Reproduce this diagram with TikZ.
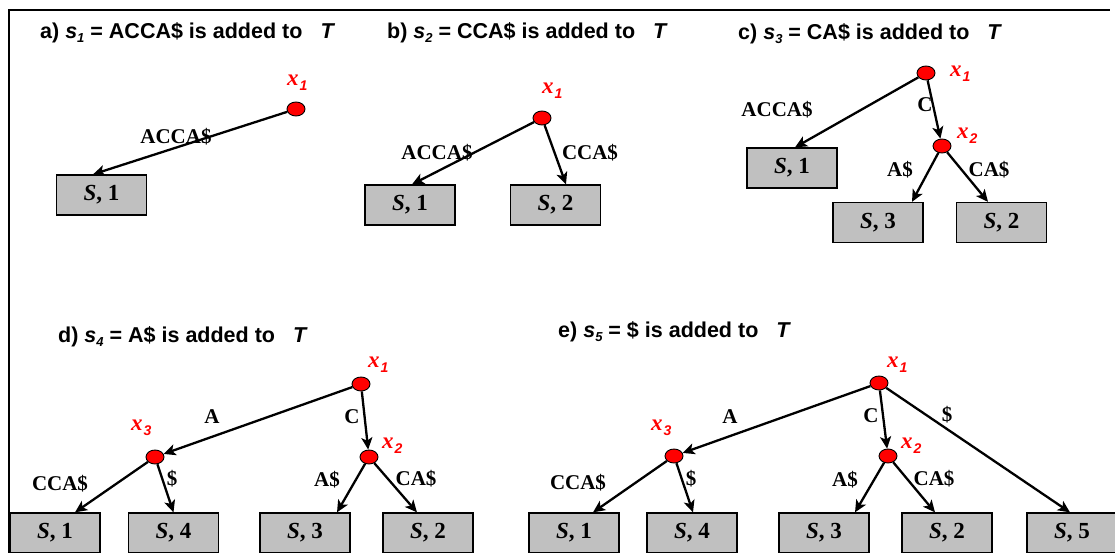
\documentclass[tikz,border=0pt]{standalone}
\usepackage{fontspec}
\setmainfont{Liberation Serif}
\newfontfamily\arialfont{Liberation Sans}
\usetikzlibrary{arrows.meta,shapes.geometric}

\definecolor{boxgray}{RGB}{192,192,192}
\definecolor{nodered}{RGB}{255,0,0}

% vertex name x_i (serif x, sans subscript)
\newcommand\vxname[1]{{\fontsize{23}{24}\selectfont\bfseries\itshape x\kern1pt\raisebox{-5pt}{\arialfont\fontsize{14}{16}\selectfont\bfseries\itshape #1}}}
% leaf text  S, i
\newcommand\leaftext[1]{\textit{S}, #1}
% subscript used in the panel titles
\newcommand\ttlsub[1]{\raisebox{-4pt}{\fontsize{13}{14}\selectfont\itshape #1}}

\tikzset{
  vertex/.style={ellipse, draw=black, fill=nodered, line width=0.9pt,
    minimum width=18pt, minimum height=14pt, inner sep=0pt},
  leaf/.style={draw=black, fill=boxgray, line width=1.3pt,
    minimum width=90pt, minimum height=40pt, inner sep=0pt,
    font=\fontsize{23}{24}\selectfont\bfseries},
  edge/.style={line width=2.3pt, -{Stealth[length=12pt,width=11pt,inset=3pt]}},
  elabel/.style={font=\fontsize{21}{24}\selectfont\bfseries, inner sep=0pt},
  vlabel/.style={text=nodered, inner sep=0pt, anchor=base west},
  ttl/.style={anchor=base west, inner sep=0pt,
    font=\arialfont\bfseries\fontsize{21.5}{24}\selectfont},
}

\begin{document}
\begin{tikzpicture}[x=1pt,y=-1pt]
\useasboundingbox (0,0) rectangle (1115,552);
\clip (0,0) rectangle (1115,552);

% outer frame
\draw[line width=1.5pt] (9,560) -- (9,10) -- (1110,10);

% ---------- a) ----------
\node[ttl] (ta) at (40,38) {a)\ \textit{s}\ttlsub{1} = ACCA\$ is added to\hspace{18pt}\textit{T}};
\node[vertex] (a1) at (296,109) {};
\node[vlabel] (a1n) at (287,85) {\vxname{1}};
\node[leaf] (aS1) at (101.5,195) {\leaftext{1}};
\draw[edge] (a1) -- ([xshift=-8.5pt]aS1.north);
\node[elabel] (aL1) at (176,137) {ACCA\$};

% ---------- b) ----------
\node[ttl] (tb) at (387,38) {b)\ \textit{s}\ttlsub{2} = CCA\$ is added to\hspace{18pt}\textit{T}};
\node[vertex] (b1) at (542,118) {};
\node[vlabel] (b1n) at (542,93) {\vxname{1}};
\node[leaf] (bS1) at (410,205) {\leaftext{1}};
\node[leaf] (bS2) at (555.5,205) {\leaftext{2}};
\draw[edge] (b1) -- ([xshift=2pt]bS1.north);
\draw[edge] (b1) -- ([xshift=10.5pt]bS2.north);
\node[elabel] (bL1) at (437,153) {ACCA\$};
\node[elabel] (bL2) at (590,153) {CCA\$};

% ---------- c) ----------
\node[ttl] (tc) at (738,39) {c)\ \textit{s}\ttlsub{3} = CA\$ is added to\hspace{18pt}\textit{T}};
\node[vertex] (c1) at (926,73) {};
\node[vertex] (c2) at (942,146) {};
\node[vlabel] (c1n) at (950,76) {\vxname{1}};
\node[vlabel] (c2n) at (957,138) {\vxname{2}};
\node[leaf] (cS1) at (792,168) {\leaftext{1}};
\node[leaf] (cS3) at (878,222.5) {\leaftext{3}};
\node[leaf] (cS2) at (1001.5,222.5) {\leaftext{2}};
\draw[edge] (c1) -- ([xshift=3pt]cS1.north);
\draw[edge] (c1) -- (c2);
\draw[edge] (c2) -- ([xshift=34pt]cS3.north);
\draw[edge] (c2) -- ([xshift=-13.5pt]cS2.north);
\node[elabel] (cL1) at (777,110) {ACCA\$};
\node[elabel] (cL2) at (925,105) {C};
\node[elabel] (cL3) at (900,170) {A\$};
\node[elabel] (cL4) at (989,170) {CA\$};

% ---------- d) ----------
\node[ttl] (td) at (58,342) {d)\ \textit{s}\ttlsub{4} = A\$ is added to\hspace{18pt}\textit{T}};
\node[vertex] (d1) at (361,384) {};
\node[vertex] (d3) at (155,457) {};
\node[vertex] (d2) at (369,457) {};
\node[vlabel] (d1n) at (368,367) {\vxname{1}};
\node[vlabel] (d3n) at (131,430) {\vxname{3}};
\node[vlabel] (d2n) at (382,448) {\vxname{2}};
\node[leaf] (dS1) at (55,533) {\leaftext{1}};
\node[leaf] (dS4) at (173.5,533) {\leaftext{4}};
\node[leaf] (dS3) at (305,533) {\leaftext{3}};
\node[leaf] (dS2) at (428,533) {\leaftext{2}};
\draw[edge] (d1) -- (d3);
\draw[edge] (d1) -- (d2);
\draw[edge] (d3) -- ([xshift=20pt]dS1.north);
\draw[edge] (d3) -- ([xshift=0pt]dS4.north);
\draw[edge] (d2) -- ([xshift=32pt]dS3.north);
\draw[edge] (d2) -- ([xshift=-11pt]dS2.north);
\node[elabel] (dL1) at (212,417) {A};
\node[elabel] (dL2) at (352,417) {C};
\node[elabel] (dL3) at (60,484) {CCA\$};
\node[elabel] (dL4) at (172,479) {\$};
\node[elabel] (dL5) at (327,480) {A\$};
\node[elabel] (dL6) at (416,479) {CA\$};

% ---------- e) ----------
\node[ttl] (te) at (558,337) {e)\ \textit{s}\ttlsub{5} = \$ is added to\hspace{18pt}\textit{T}};
\node[vertex] (e1) at (879,383) {};
\node[vertex] (e3) at (674,456) {};
\node[vertex] (e2) at (888,456) {};
\node[vlabel] (e1n) at (887,367) {\vxname{1}};
\node[vlabel] (e3n) at (651,430) {\vxname{3}};
\node[vlabel] (e2n) at (901,448) {\vxname{2}};
\node[leaf] (eS1) at (574,533) {\leaftext{1}};
\node[leaf] (eS4) at (692,533) {\leaftext{4}};
\node[leaf] (eS3) at (824,533) {\leaftext{3}};
\node[leaf] (eS2) at (947,533) {\leaftext{2}};
\node[leaf] (eS5) at (1072,533) {\leaftext{5}};
\draw[edge] (e1) -- (e3);
\draw[edge] (e1) -- (e2);
\draw[edge] (e1) -- ([xshift=-2pt]eS5.north);
\draw[edge] (e3) -- ([xshift=19pt]eS1.north);
\draw[edge] (e3) -- ([xshift=1pt]eS4.north);
\draw[edge] (e2) -- ([xshift=31pt]eS3.north);
\draw[edge] (e2) -- ([xshift=-12pt]eS2.north);
\node[elabel] (eL1) at (730,417) {A};
\node[elabel] (eL2) at (871,416) {C};
\node[elabel] (eL3) at (947,415) {\$};
\node[elabel] (eL4) at (578,483) {CCA\$};
\node[elabel] (eL5) at (691,479) {\$};
\node[elabel] (eL6) at (845,480) {A\$};
\node[elabel] (eL7) at (934,479) {CA\$};
\end{tikzpicture}
\end{document}
